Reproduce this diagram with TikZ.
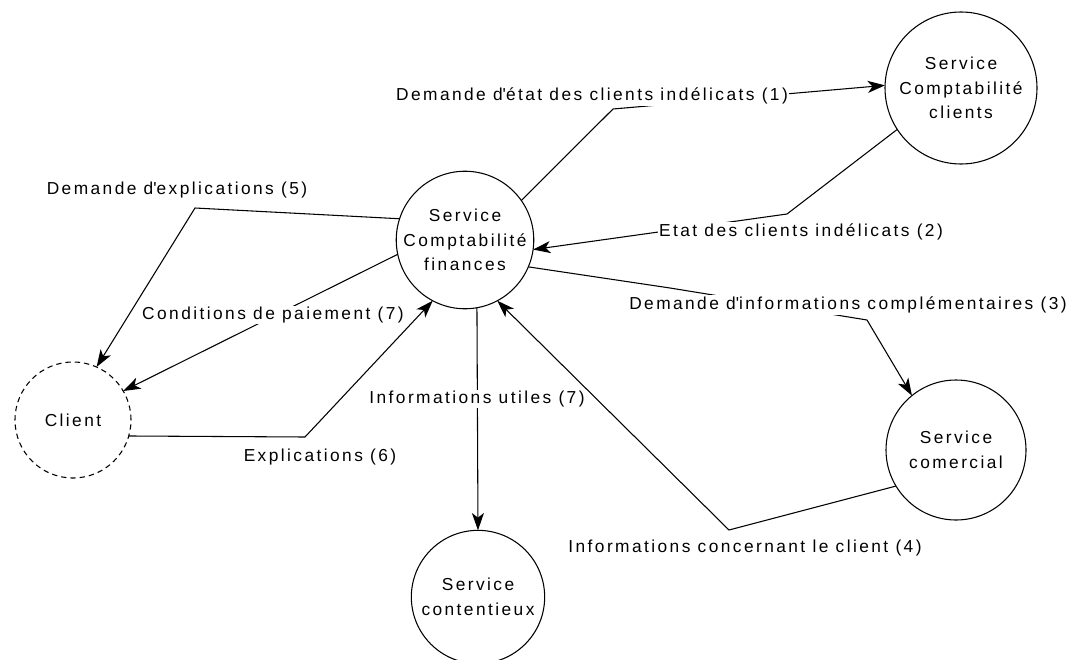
\documentclass[tikz,border=0pt]{standalone}
\usepackage{fontspec}
\setmainfont{Liberation Sans}[LetterSpace=14]
\usetikzlibrary{arrows.meta}
\newcommand{\ap}{\textquotesingle}
\begin{document}
\begin{tikzpicture}[x=0.75pt,y=-0.75pt,
  every node/.style={font=\fontsize{13}{16}\selectfont},
  proc/.style={draw,circle,line width=0.8pt,inner sep=0pt,outer sep=0pt,align=center,
    font=\fontsize{13}{18.5}\selectfont},
  flow/.style={line width=0.8pt},
  arr/.style={flow,-{Stealth[length=13pt,width=9pt,inset=3.5pt]}},
  lab/.style={fill=white,inner sep=1pt}]
\useasboundingbox (0,0) rectangle (1081,660);
\clip (0,0) rectangle (1081,660);
% processes
\node[proc,minimum size=102pt] (fin) at (465,240) {Service\\Comptabilité\\finances};
\node[proc,minimum size=114pt] (cc) at (961,88) {Service\\Comptabilité\\clients};
\node[proc,minimum size=105pt] (com) at (956,450) {Service\\comercial};
\node[proc,dashed,dash pattern=on 4pt off 3pt,minimum size=87pt] (cli) at (73,420) {Client};
\node[proc,minimum size=100pt] (cont) at (478,597) {Service\\contentieux};
% waypoints
\coordinate (k1) at (613,109);
\coordinate (k2) at (787,214);
\coordinate (k3) at (670,288);
\coordinate (k3b) at (867,320);
\coordinate (k4) at (729,530);
\coordinate (k5) at (195,208);
\coordinate (k6) at (305,437);
% flows
\draw[arr] (fin.35) -- (k1) -- (cc.178);
\draw[arr] (cc.213) -- (k2) -- (fin.-8);
\draw[arr] (fin.-23) -- (k3) -- (k3b) -- (com.129);
\draw[arr] (com.211) -- (k4) -- (fin.-62);
\draw[arr] (fin.162) -- (k5) -- (cli.66);
\draw[arr] (cli.-16) -- (k6) -- (fin.242);
\draw[arr] (fin.192) -- (cli.30);
\draw[arr] (fin.-80) -- (cont.north);
% labels
\node[lab] (l1) at (592,96) {Demande d\ap état des clients indélicats (1)};
\node[lab] (l2) at (801,232) {Etat des clients indélicats (2)};
\node[lab] (l3) at (848,305) {Demande d\ap informations complémentaires (3)};
\node[lab] (l4) at (745,548) {Informations concernant le client (4)};
\node[lab] (l5) at (177,190) {Demande d\ap explications (5)};
\node[lab] (l6) at (320,457) {Explications (6)};
\node[lab] (l7) at (273,315) {Conditions de paiement (7)};
\node[lab] (l8) at (477,399) {Informations utiles (7)};
\end{tikzpicture}
\end{document}
